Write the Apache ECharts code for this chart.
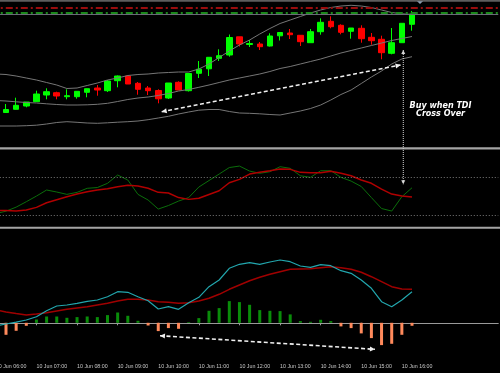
<!DOCTYPE html>
<html><head><meta charset="utf-8">
<script src="https://cdn.jsdelivr.net/npm/echarts@6/dist/echarts.min.js"></script>
<style>html,body{margin:0;padding:0;background:#000;}#c{width:500px;height:373px;}</style>
</head><body><div id="c"></div>
<script>
// ---- categories / tick labels (15-minute bars) ----
const times = [
 '10 Jun 06:00','10 Jun 06:15','10 Jun 06:30','10 Jun 06:45',
 '10 Jun 07:00','10 Jun 07:15','10 Jun 07:30','10 Jun 07:45',
 '10 Jun 08:00','10 Jun 08:15','10 Jun 08:30','10 Jun 08:45',
 '10 Jun 09:00','10 Jun 09:15','10 Jun 09:30','10 Jun 09:45',
 '10 Jun 10:00','10 Jun 10:15','10 Jun 10:30','10 Jun 10:45',
 '10 Jun 11:00','10 Jun 11:15','10 Jun 11:30','10 Jun 11:45',
 '10 Jun 12:00','10 Jun 12:15','10 Jun 12:30','10 Jun 12:45',
 '10 Jun 13:00','10 Jun 13:15','10 Jun 13:30','10 Jun 13:45',
 '10 Jun 14:00','10 Jun 14:15','10 Jun 14:30','10 Jun 14:45',
 '10 Jun 15:00','10 Jun 15:15','10 Jun 15:30','10 Jun 15:45',
 '10 Jun 16:00','10 Jun 16:15','10 Jun 16:30','10 Jun 16:45',
 '10 Jun 17:00','10 Jun 17:15','10 Jun 17:30','10 Jun 17:45',
 '10 Jun 18:00','10 Jun 18:15'
];
const lastLabelIndex = 40;

// ---- candles, bars 06:15 .. 16:15 ----
const candleOpen  = [37.5,40.7,44,48.3,55,57.3,53.3,53.3,57.7,62,59.3,69.3,74,66.7,62,59.5,52,67.7,59.3,76.7,81.2,91.7,95,113.2,105.5,106,104,114.2,117,114.7,107.3,118.3,128.7,124.7,118.7,121.7,112.7,110.7,96.7,107.3,125.7];
const candleClose = [40.5,44.7,48,56,58.3,54,54.3,58.7,61.3,60,69,74,66,60.7,59.3,51.2,67,60,76.5,80.8,92.7,94.3,112.5,106,106.5,103.3,114,117.5,115.3,108.3,118.3,127.7,123.3,117.7,122,111.3,109.3,97.3,107.3,126.7,136];
const candleLow   = [37.5,40.5,42.7,48,50.7,50.7,50.7,51.3,52.7,54.3,58,62.7,66,55.3,55,46.7,51,60,58.5,72,74,89,93.3,103.5,103,100,103.5,109.5,111,104,107.3,115.3,121.7,115.7,111.3,107.3,105.3,90.7,95.7,107.3,119.3];
const candleHigh  = [46,52.3,48,59.3,61.7,58.3,60.7,59,61.5,65,70,74.5,75,68,64,60.7,67,68.7,76.5,89,92.7,100.7,115.5,113.2,110,108,116.7,118,121,114.7,121,131.7,133.7,125.7,122,124.7,117,114.3,122,126.7,139];

// ---- Bollinger bands, bars 06:00 .. 16:15 ----
const bbUpper  = [76,75.5,74,72,70,67.5,65,61.5,62,64.5,67,70,72,74.5,75.5,76,77,77.5,78,78,81,86,92.5,99,105,110,116,121.5,126.5,130,133.5,137,140,142.5,144,144.7,144,142.5,140,137.5,136.2,135.5];
const bbMiddle = [49.5,49,48.2,47.5,47,46.2,45.5,45,45,45.2,45.7,46.7,48.5,50.5,52,53,54.5,56.5,59,60.5,62.7,65,67.5,70,72,74,76,78.5,81.5,83.5,86,88.5,91,94,97,99.5,102,104.5,107,109.5,111.5,113.5];
const bbLower  = [24,24,24,24.3,24.8,26,27.5,28.3,27.7,27,26.7,27.2,27.8,28.3,29,30.3,32,33.7,36,38,39.8,40.5,40.5,38.5,37,36.7,36.2,35.5,35,37,39,41.5,45,50,55.5,60,66.5,73,79,86,91,93.3];
const priceLevels = [142.5, 137.3, 135.3];

// ---- TDI panel, bars 06:00 .. 16:15 ----
const tdiGreen = [33.6,35.9,39.7,44.8,50.1,55.8,53.9,51.7,53.6,57.4,58.1,62.1,69.9,65.2,51.7,46.4,37.9,41.2,45.4,48.7,58.6,64.7,70.8,76.9,78.3,73.6,71.5,73.0,77.7,76.2,69.2,67.7,73.9,73.9,67.7,64.2,59.1,48.7,38.4,36.0,49.5,57.9];
const tdiRed   = [36.7,36.5,36.0,37.0,39.5,43.8,46.7,49.5,52.0,54.2,55.8,57.0,58.9,60.2,59.5,57.4,53.6,53.0,48.7,47.0,48.0,51.6,55.1,62.6,65.8,70.8,72.4,73.9,75.5,75.2,72.4,72.0,72.0,73.4,71.5,69.2,65.2,62.1,56.7,52.0,50.1,49.2];
const tdiLevels = [32, 68];

// ---- lower oscillator ----
const oscCyan = [-3.2,-1.2,0.7,2.8,6.1,12.1,16.8,17.8,19.5,21.5,22.8,26.1,31.1,30.5,26.1,22.1,13.8,16.1,13.5,20.1,25.5,36.1,42.8,54.5,58.5,60.1,58.5,60.8,62.8,61.1,56.8,55.5,58.1,57.1,52.1,49.5,42.8,34.5,21.1,16.1,22.8,31.1];
const oscRed  = [12.8,10.9,9.3,7.8,8.8,10.1,11.8,13.5,14.8,16.1,17.8,19.5,21.8,23.5,23.5,22.8,21.1,20.5,19.5,20.1,21.8,24.5,28.5,33.5,37.8,42.1,45.5,48.5,51.1,53.5,53.8,54.1,55.1,56.1,55.1,53.5,50.5,46.1,41.1,36.1,33.8,33.5];
// histogram, bars 06:15 .. 16:15
const oscHist = [-12,-8,-3,3.3,6.3,6.3,5,5.7,6.3,5.7,7.7,10.3,7,2,-2.7,-8.3,-5.3,-6,0.7,4.7,12,14.7,21.7,20.7,18,12.7,12,11.7,8.4,1.7,1,3,1.7,-3.6,-5.3,-10.6,-15.3,-22.3,-21,-12,-3];

// ---- annotation anchors: [category index, value] ----
const noteTopArrow = [[16.34, 38.3], [39.87, 85]];
const noteVertTop = [40.14, 100];   // price panel
const noteVertBottom = [40.14, 61.1]; // TDI panel
const noteBottomArrow = [[16.17, -12.9], [37.35, -26.5]];
const noteText = [43.81, 40];
const noteLabel = 'Buy when TDI\nCross Over';

const candleData = [['-','-','-','-']].concat(candleOpen.map((o, i) => [o, candleClose[i], candleLow[i], candleHigh[i]]));
const histData = ['-'].concat(oscHist);

const chart = echarts.init(document.getElementById('c'), null, {renderer: 'canvas'});
const L = -9.225, R = 1.725;
const labelInterval = (idx) => idx % 4 === 0 && idx <= lastLabelIndex;
function hiddenX(g) {
  return {type: 'category', gridIndex: g, data: times, boundaryGap: true, show: false};
}
function lineSeries(data, xi, color, width) {
  return {type: 'line', xAxisIndex: xi, yAxisIndex: xi, data: data, symbol: 'none', showSymbol: false,
    lineStyle: {color: color, width: width}, itemStyle: {color: color}, silent: true, animation: false, z: 3};
}

chart.setOption({
  backgroundColor: '#000000',
  animation: false,
  grid: [
    {left: L, right: R, top: 0, height: 147, outerBoundsMode: 'none', containLabel: false},
    {left: L, right: R, top: 148.3, height: 79.8, outerBoundsMode: 'none', containLabel: false},
    {left: L, right: R, top: 228.8, height: 132, outerBoundsMode: 'none', containLabel: false}
  ],
  xAxis: [
    hiddenX(0), hiddenX(1),
    {type: 'category', gridIndex: 2, data: times, boundaryGap: true,
     axisLine: {show: true, lineStyle: {color: '#9a9a9a', width: 1}},
     axisTick: {show: true, alignWithLabel: true, interval: labelInterval, length: 2.5, lineStyle: {color: '#9a9a9a'}},
     axisLabel: {show: true, interval: labelInterval, align: 'left', margin: 3, color: '#c8c8c8',
                 fontSize: 5.3, fontFamily: 'Liberation Sans'},
     splitLine: {show: false}}
  ],
  yAxis: [
    {type: 'value', gridIndex: 0, min: 3, max: 150, show: false, splitLine: {show: false}},
    {type: 'value', gridIndex: 1, min: 20, max: 95, show: false, splitLine: {show: false}},
    {type: 'value', gridIndex: 2, min: -38, max: 94, show: false, splitLine: {show: false}}
  ],
  series: [
    {type: 'candlestick', xAxisIndex: 0, yAxisIndex: 0, data: candleData, barWidth: 6, silent: true, z: 2,
     itemStyle: {color: '#00ff00', color0: '#ff0000', borderColor: '#00ff00', borderColor0: '#ff0000', borderWidth: 1},
     markLine: {silent: true, symbol: ['none', 'none'], label: {show: false}, animation: false,
       data: [
         {yAxis: priceLevels[0], lineStyle: {color: '#9a0d0d', width: 2, type: [7, 3, 2, 3]}},
         {yAxis: priceLevels[1], lineStyle: {color: '#1c8a1c', width: 2, type: [7, 3, 2, 3]}},
         {yAxis: priceLevels[2], lineStyle: {color: '#6a6a78', width: 1, type: 'solid'}}
       ]}},
    lineSeries(bbUpper, 0, '#767676', 1),
    lineSeries(bbMiddle, 0, '#767676', 1),
    lineSeries(bbLower, 0, '#767676', 1),
    Object.assign(lineSeries(tdiGreen, 1, '#0b6e0b', 1), {
      markLine: {silent: true, symbol: ['none', 'none'], label: {show: false}, animation: false,
        lineStyle: {color: '#7a7a7a', width: 1, type: [1, 2]},
        data: tdiLevels.map(v => ({yAxis: v}))}}),
    lineSeries(tdiRed, 1, '#b00000', 1.5),
    {type: 'bar', xAxisIndex: 2, yAxisIndex: 2, data: histData, barWidth: 3, silent: true, z: 2,
     itemStyle: {color: (p) => (p.value >= 0 ? '#0a8c0a' : '#ff8a5c')}},
    lineSeries(oscRed, 2, '#a00000', 1.5),
    lineSeries(oscCyan, 2, '#22a6ad', 1.2)
  ]
});

function px(g, k, v) {
  const k0 = Math.floor(k), f = k - k0;
  const a = chart.convertToPixel({gridIndex: g}, [k0, v]);
  const b = chart.convertToPixel({gridIndex: g}, [k0 + 1, v]);
  return [a[0] + (b[0] - a[0]) * f, a[1]];
}
function arrow(p, q, color, lw, dash, hl, hw) {
  const els = [{type: 'line', silent: true, z: 100,
    shape: {x1: p[0], y1: p[1], x2: q[0], y2: q[1]},
    style: {stroke: color, lineWidth: lw, lineDash: dash}}];
  [[p, q], [q, p]].forEach(([tip, from]) => {
    const dx = tip[0] - from[0], dy = tip[1] - from[1], len = Math.hypot(dx, dy);
    const ux = dx / len, uy = dy / len, nx = -uy, ny = ux;
    const bx = tip[0] - ux * hl, by = tip[1] - uy * hl;
    els.push({type: 'polygon', silent: true, z: 101,
      shape: {points: [[tip[0], tip[1]], [bx + nx * hw, by + ny * hw], [bx - nx * hw, by - ny * hw]]},
      style: {fill: color}});
  });
  return els;
}

const a1 = px(0, noteTopArrow[0][0], noteTopArrow[0][1]);
const a2 = px(0, noteTopArrow[1][0], noteTopArrow[1][1]);
const v1 = px(0, noteVertTop[0], noteVertTop[1]);
const v2 = px(1, noteVertBottom[0], noteVertBottom[1]);
const b1 = px(2, noteBottomArrow[0][0], noteBottomArrow[0][1]);
const b2 = px(2, noteBottomArrow[1][0], noteBottomArrow[1][1]);
const tp = px(0, noteText[0], noteText[1]);

const g = [];
g.push({type: 'rect', silent: true, z: 90, shape: {x: 0, y: 0, width: 500, height: 1.7}, style: {fill: '#5e5e5e'}});
g.push({type: 'polygon', silent: true, z: 91, shape: {points: [[417, 1.2], [423, 1.2], [420, 4]]}, style: {fill: '#8d9db0'}});
g.push({type: 'rect', silent: true, z: 90, shape: {x: 0, y: 147.3, width: 500, height: 2.1}, style: {fill: '#a4a4a4'}});
g.push({type: 'rect', silent: true, z: 90, shape: {x: 0, y: 226.7, width: 500, height: 2.1}, style: {fill: '#a4a4a4'}});
arrow(a1, a2, '#f0f0f0', 1.6, [4, 2.5], 5, 2.6).forEach(e => g.push(e));
arrow(b1, b2, '#f0f0f0', 1.6, [4, 2.5], 5, 2.6).forEach(e => g.push(e));
arrow(v1, v2, '#d8d8d8', 1, [1, 1], 4, 2).forEach(e => g.push(e));
g.push({type: 'text', silent: true, z: 102, x: tp[0], y: tp[1],
  style: {text: noteLabel, fill: '#ffffff', fontSize: 8, fontWeight: 'bold', fontStyle: 'italic',
          fontFamily: 'DejaVu Sans', align: 'center', verticalAlign: 'middle', lineHeight: 8.6}});
chart.setOption({graphic: g});
</script></body></html>
